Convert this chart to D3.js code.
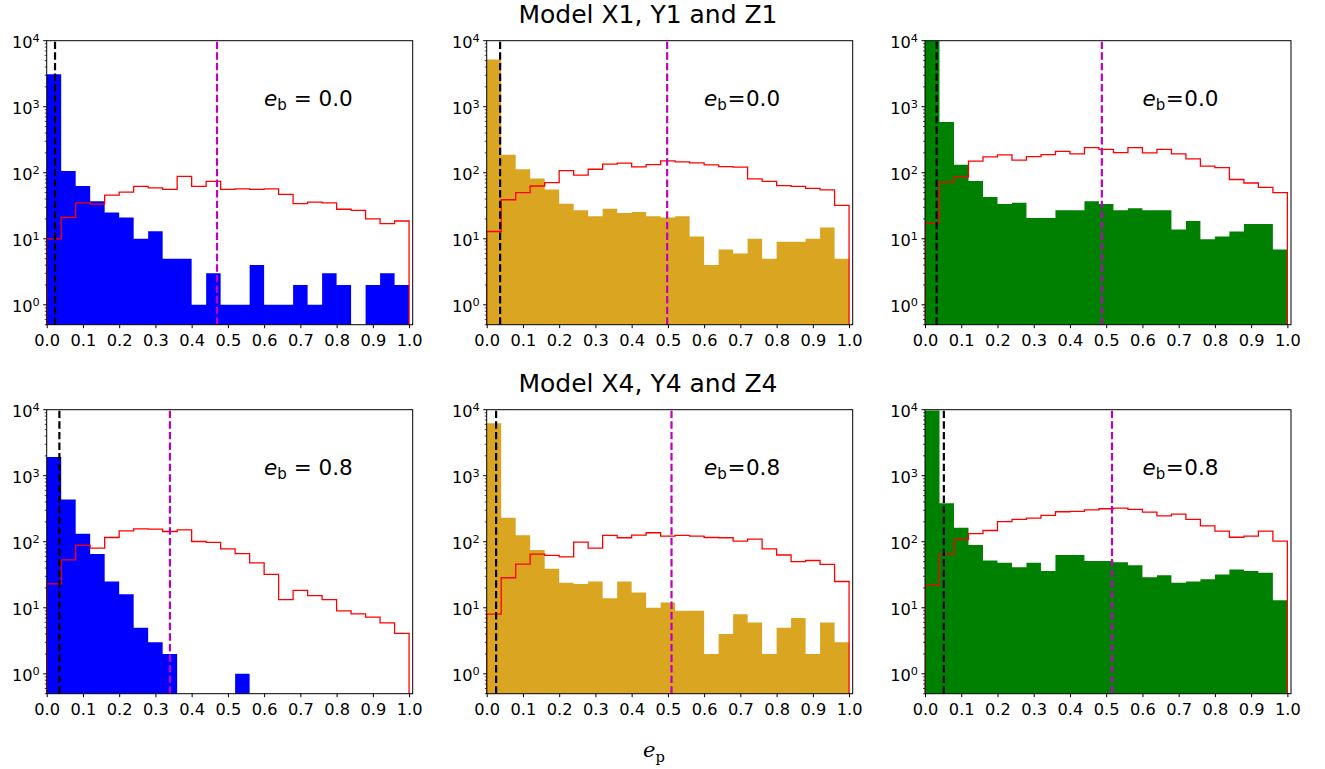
<!DOCTYPE html>
<html>
<head>
<meta charset="utf-8">
<script src="https://cdn.jsdelivr.net/npm/d3@7"></script>
<style>
  body { margin: 0; background: #fff; }
  svg { display: block; }
  text { font-family: "DejaVu Sans", sans-serif; fill: #000; }
</style>
</head>
<body>
<svg id="fig" width="1325" height="769"></svg>
<script>
// bin edges of e_p, 25 bins
let binEdges = [0.00, 0.04, 0.08, 0.12, 0.16, 0.20, 0.24, 0.28, 0.32, 0.36, 0.40, 0.44, 0.48,
  0.52, 0.56, 0.60, 0.64, 0.68, 0.72, 0.76, 0.80, 0.84, 0.88, 0.92, 0.96, 1.00]
let xTicks = [0.0, 0.1, 0.2, 0.3, 0.4, 0.5, 0.6, 0.7, 0.8, 0.9, 1.0]
let yTicks = [1, 10, 100, 1000, 10000]
let yTickPowers = ['0', '1', '2', '3', '4']

// filled histograms (counts per bin)
let countsX1 = [3100, 106, 63, 37, 25, 21, 10, 13, 5, 5, 1, 3, 1, 1, 4, 1, 1, 2, 1, 3, 2, 0, 2, 3, 2]
let countsY1 = [5200, 188, 113, 82, 56, 34, 27, 22, 28.5, 24.5, 25.4, 22, 21, 22, 10.8, 4, 6.9, 6, 10, 5, 9, 9, 10, 14.8, 5]
let countsZ1 = [10500, 589, 132, 75, 43, 33.5, 35, 20.7, 20.7, 27, 27, 37, 33.5, 27, 29, 27, 27, 13.8, 18.6, 9.8, 10.8, 12.9, 16.8, 16.8, 6.9]
let countsX4 = [1930, 436, 132, 65, 25, 16, 5, 3, 2, 0, 0, 0, 0, 1, 0, 0, 0, 0, 0, 0, 0, 0, 0, 0, 0]
let countsY4 = [6230, 231, 125, 75, 39, 24, 23, 25, 14, 25, 17, 10, 12, 9, 9, 2, 4, 8, 6, 2, 5, 7, 2, 6, 3]
let countsZ4 = [9700, 384, 163, 89, 52, 48, 41, 48, 36, 63, 63, 51, 51, 49, 44, 29, 31, 24, 25, 27, 32, 38, 36, 34, 13]

// red step histograms
let stepX1 = [10, 21, 35, 33.5, 46, 51, 62, 59, 56, 88, 62, 74, 56, 57, 56, 57, 47, 34, 36, 35, 28, 27, 20, 17, 18.6]
let stepY1 = [12.9, 39, 50, 63, 71, 108, 92, 113, 135, 140, 123, 133, 151, 146, 141, 132, 124, 122, 81, 74, 64, 62, 58, 55, 32]
let stepZ1 = [17.6, 72, 86, 150, 174, 186, 155, 176, 188, 211, 193, 240, 226, 202, 240, 200, 226, 193, 162, 126, 120, 79, 70, 60, 50]
let stepX4 = [23, 53, 88, 80, 116, 146, 157, 155, 143, 151, 101, 98, 78, 66, 48, 32, 13.3, 18.4, 15.3, 13.3, 9, 8.1, 7.2, 5.9, 4.1]
let stepY4 = [8, 28.5, 46, 65, 62, 59, 99, 80, 125, 115, 126, 137, 122, 125, 122, 116, 115, 102, 110, 78, 63, 50, 52, 45.5, 25]
let stepZ4 = [22, 65, 108, 133, 148, 202, 219, 228, 251, 285, 288, 305, 316, 324, 309, 282, 246, 263, 219, 174, 145, 117, 122, 145, 102]

// dashed vertical markers
let blackLines = [0.023, 0.037, 0.032, 0.035, 0.026, 0.052]
let magentaLines = [0.470, 0.498, 0.488, 0.340, 0.510, 0.516]

let ebValues = ['0.0', '0.0', '0.0', '0.8', '0.8', '0.8']
let ebSpaced = [true, false, false, true, false, false]
let rowTitles = ['Model X1, Y1 and Z1', 'Model X4, Y4 and Z4']

let fillColors = ['#0000ff', '#daa520', '#008000']

let panels = [
  { counts: countsX1, step: stepX1 }, { counts: countsY1, step: stepY1 }, { counts: countsZ1, step: stepZ1 },
  { counts: countsX4, step: stepX4 }, { counts: countsY4, step: stepY4 }, { counts: countsZ4, step: stepZ4 }
]

let colLeft = [46.7, 486.7, 925]
let rowTop = [40.7, 409.7]
let pw = 366, ph = 284

let svg = d3.select('#fig')

let x = d3.scaleLinear().domain([0, 1.01]).range([0, pw])
let y = d3.scaleLog().domain([0.5, 1e4]).range([ph, 0])

// minor log ticks
let minorTicks = []
for (let p = -1; p < 4; p++) {
  for (let m = 2; m <= 9; m++) {
    let v = m * Math.pow(10, p)
    if (v >= 0.5 && v <= 1e4) minorTicks.push(v)
  }
}

// step outline through the bins, dropping to the axis bottom at both ends
function stepPoints(values) {
  let pts = [[0, ph]]
  values.forEach(function (v, k) {
    let yy = v > 0 ? y(v) : ph
    pts.push([x(binEdges[k]), yy])
    pts.push([x(binEdges[k + 1]), yy])
  })
  pts.push([x(1), ph])
  return pts
}

panels.forEach(function (panel, i) {
  let col = i % 3, row = Math.floor(i / 3)
  let g = svg.append('g').attr('transform', 'translate(' + colLeft[col] + ',' + rowTop[row] + ')')

  let clipId = 'clip' + i
  g.append('clipPath').attr('id', clipId)
    .append('rect').attr('width', pw).attr('height', ph)

  let plot = g.append('g').attr('clip-path', 'url(#' + clipId + ')')

  // filled histogram as one shape
  plot.append('path')
    .attr('d', d3.line()(stepPoints(panel.counts)) + 'Z')
    .attr('fill', fillColors[col])

  // red step outline
  plot.append('path')
    .attr('d', d3.line()(stepPoints(panel.step)))
    .attr('fill', 'none')
    .attr('stroke', '#ff0000')
    .attr('stroke-width', 1.3)

  // dashed markers
  plot.append('line')
    .attr('x1', x(blackLines[i])).attr('x2', x(blackLines[i]))
    .attr('y1', ph).attr('y2', 0)
    .attr('stroke', '#000').attr('stroke-width', 2.2)
    .attr('stroke-dasharray', '7.4,3.2')
  plot.append('line')
    .attr('x1', x(magentaLines[i])).attr('x2', x(magentaLines[i]))
    .attr('y1', ph).attr('y2', 0)
    .attr('stroke', '#bf00bf').attr('stroke-width', 2.2)
    .attr('stroke-dasharray', '7.4,3.2')

  // frame
  g.append('rect').attr('width', pw).attr('height', ph)
    .attr('fill', 'none').attr('stroke', '#000').attr('stroke-width', 1)

  // x axis
  let xAxis = d3.axisBottom(x).tickValues(xTicks).tickFormat(d3.format('.1f'))
    .tickSize(3.5).tickPadding(6)
  let xg = g.append('g').attr('transform', 'translate(0,' + ph + ')').call(xAxis)
  xg.select('.domain').remove()
  xg.selectAll('text').attr('font-size', 16.2).attr('font-family', 'DejaVu Sans')
  xg.selectAll('line').attr('stroke-width', 1)

  // y axis, minor then major
  g.selectAll('line.minor').data(minorTicks).enter().append('line')
    .attr('class', 'minor')
    .attr('x1', -2).attr('x2', 0)
    .attr('y1', function (v) { return y(v) }).attr('y2', function (v) { return y(v) })
    .attr('stroke', '#000').attr('stroke-width', 0.7)
  g.selectAll('line.major').data(yTicks).enter().append('line')
    .attr('class', 'major')
    .attr('x1', -3.5).attr('x2', 0)
    .attr('y1', function (v) { return y(v) }).attr('y2', function (v) { return y(v) })
    .attr('stroke', '#000').attr('stroke-width', 1)
  let yl = g.selectAll('text.ylab').data(yTicks).enter().append('text')
    .attr('class', 'ylab')
    .attr('x', -7)
    .attr('y', function (v) { return y(v) + 7.6 })
    .attr('text-anchor', 'end')
    .attr('font-size', 16.2)
  yl.append('tspan').text('10')
  yl.append('tspan').attr('font-size', 11.3).attr('dy', -6.5)
    .text(function (v, k) { return yTickPowers[k] })

  // e_b annotation
  let t = g.append('text')
    .attr('x', x(0.6)).attr('y', 65.3)
    .attr('font-size', 21.5)
  t.append('tspan').attr('font-style', 'italic').text('e')
  t.append('tspan').attr('font-size', 15).attr('dy', 4).text('b')
  if (ebSpaced[i]) {
    t.append('tspan').attr('dy', -4).text('\u00a0=\u00a0' + ebValues[i])
  } else {
    t.append('tspan').attr('dy', -4).attr('dx', 0.5).text('=')
    t.append('tspan').attr('dx', 0.5).text(ebValues[i])
  }
})

// row titles
rowTitles.forEach(function (title, r) {
  svg.append('text')
    .attr('x', 648).attr('y', rowTop[r] - 17.7)
    .attr('text-anchor', 'middle')
    .attr('font-size', 25)
    .text(title)
})

// shared x label
let xl = svg.append('text')
  .attr('x', 643).attr('y', 756.7)
  .style('font-family', '"DejaVu Serif", serif')
  .attr('font-size', 21)
xl.append('tspan').attr('font-style', 'italic').text('e')
xl.append('tspan').attr('font-size', 14.7).attr('dy', 5).text('p')
</script>
</body>
</html>
